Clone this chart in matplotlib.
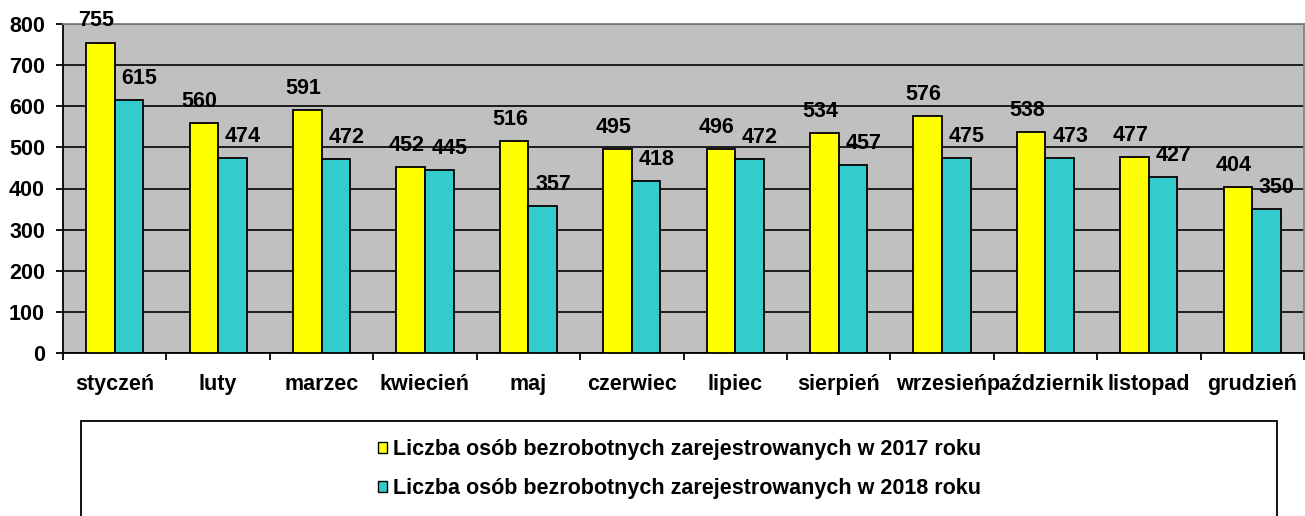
import matplotlib
matplotlib.use("Agg")
import matplotlib.pyplot as plt
from matplotlib.patches import Rectangle, Patch
import numpy as np

plt.rcParams['font.family'] = ['Liberation Sans', 'DejaVu Sans']

months = ['styczeń', 'luty', 'marzec', 'kwiecień', 'maj', 'czerwiec', 'lipiec',
          'sierpień', 'wrzesień', 'październik', 'listopad', 'grudzień']
v2017 = [755, 560, 591, 452, 516, 495, 496, 534, 576, 538, 477, 404]
v2018 = [615, 474, 472, 445, 357, 418, 472, 457, 475, 473, 427, 350]
series_names = ['Liczba osób bezrobotnych zarejestrowanych w 2017 roku',
                'Liczba osób bezrobotnych zarejestrowanych w 2018 roku']
yticks = [0, 100, 200, 300, 400, 500, 600, 700, 800]

W, H = 1305, 516
fig = plt.figure(figsize=(W / 100, H / 100), dpi=100)
ax = fig.add_axes([63 / W, 1 - 353 / H, (1304 - 63) / W, (353 - 24) / H])
ax.set_facecolor('#C0C0C0')

FS = 15.5
x = np.arange(len(months))
bw = 0.276
ax.bar(x - bw / 2, v2017, bw, color='#FFFF00', edgecolor='black', linewidth=1.3, zorder=3)
ax.bar(x + bw / 2, v2018, bw, color='#33CCCC', edgecolor='black', linewidth=1.3, zorder=3)

for xi, v in zip(x, v2017):
    ax.annotate(str(v), (xi - bw / 2 - 0.04, v), xytext=(0, 8), textcoords='offset points',
                ha='center', va='bottom', fontsize=FS, fontweight='bold', zorder=4)
for xi, v in zip(x, v2018):
    ax.annotate(str(v), (xi + bw / 2 + 0.1, v), xytext=(0, 8), textcoords='offset points',
                ha='center', va='bottom', fontsize=FS, fontweight='bold', zorder=4)

ax.set_xlim(-0.5, len(months) - 0.5)
ax.set_ylim(0, 800)
ax.set_yticks(yticks)
ax.set_yticklabels([str(t) for t in yticks], fontsize=FS, fontweight='bold')
ax.yaxis.grid(True, color='black', linewidth=1.2, zorder=1)
ax.set_axisbelow(True)

ax.set_xticks(np.arange(len(months) + 1) - 0.5)
ax.set_xticklabels([])
ax.set_xticks(x, minor=True)
ax.set_xticklabels(months, minor=True, fontsize=FS, fontweight='bold')
ax.tick_params(axis='x', which='minor', length=0, pad=15)
ax.tick_params(axis='x', which='major', length=5, width=1.3, direction='out')
ax.tick_params(axis='y', length=5, width=1.3, direction='out', pad=8)

for s in ['left', 'bottom']:
    ax.spines[s].set_color('black')
    ax.spines[s].set_linewidth(1.3)
for s in ['top', 'right']:
    ax.spines[s].set_color('#808080')
    ax.spines[s].set_linewidth(1.3)

# legend box
fig.patches.append(Rectangle((81 / W, -0.02), (1277 - 81) / W, (516 - 421) / H + 0.02,
                             transform=fig.transFigure, facecolor='white',
                             edgecolor='black', linewidth=1.3, zorder=0))
handles = [Patch(facecolor='#FFFF00', edgecolor='black', linewidth=1),
           Patch(facecolor='#33CCCC', edgecolor='black', linewidth=1)]
fig.legend(handles, series_names, loc='center', bbox_to_anchor=(0.521, 1 - 469 / H),
           frameon=False, ncol=1, handlelength=0.4, handleheight=0.4,
           handletextpad=0.3, labelspacing=0.85,
           prop={'weight': 'bold', 'size': 15.5})

fig.savefig('out.png', dpi=100)
